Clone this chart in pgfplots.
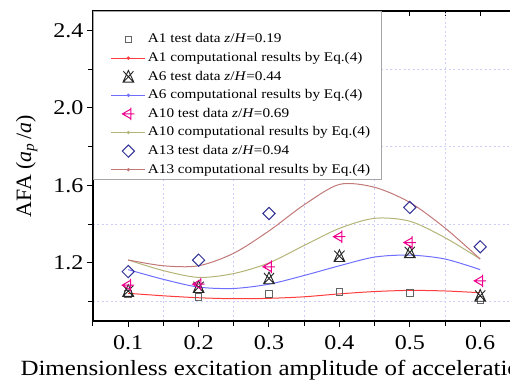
\documentclass[border=0pt]{standalone}
\usepackage{fontspec}
\setmainfont{Liberation Serif}[FakeStretch=1.15]
\newfontfamily\ylabfont{Liberation Serif}
\usepackage{pgfplots}
\pgfplotsset{compat=1.18}

\definecolor{cA1}{RGB}{255,60,60}
\definecolor{cA6}{RGB}{110,110,255}
\definecolor{cA10}{RGB}{180,180,120}
\definecolor{cA13}{RGB}{195,120,120}
\definecolor{mA1}{RGB}{100,100,100}
\definecolor{mA13}{RGB}{50,50,150}
\definecolor{gridc}{RGB}{205,205,250}

\pgfdeclareplotmark{xtri}{%
  \pgfpathmoveto{\pgfqpoint{-0.85\pgfplotmarksize}{-0.9\pgfplotmarksize}}%
  \pgfpathlineto{\pgfqpoint{0.85\pgfplotmarksize}{0.9\pgfplotmarksize}}%
  \pgfpathmoveto{\pgfqpoint{-0.85\pgfplotmarksize}{0.9\pgfplotmarksize}}%
  \pgfpathlineto{\pgfqpoint{0.85\pgfplotmarksize}{-0.9\pgfplotmarksize}}%
  \pgfpathmoveto{\pgfqpoint{0pt}{1.05\pgfplotmarksize}}%
  \pgfpathlineto{\pgfqpoint{-0.9\pgfplotmarksize}{-0.9\pgfplotmarksize}}%
  \pgfpathlineto{\pgfqpoint{0.9\pgfplotmarksize}{-0.9\pgfplotmarksize}}%
  \pgfpathclose
  \pgfusepathqstroke}
\pgfdeclareplotmark{ltriplus}{%
  \pgfpathmoveto{\pgfqpoint{-\pgfplotmarksize}{0pt}}%
  \pgfpathlineto{\pgfqpoint{0.4\pgfplotmarksize}{0.8\pgfplotmarksize}}%
  \pgfpathlineto{\pgfqpoint{0.4\pgfplotmarksize}{-0.8\pgfplotmarksize}}%
  \pgfpathclose
  \pgfpathmoveto{\pgfqpoint{-\pgfplotmarksize}{0pt}}%
  \pgfpathlineto{\pgfqpoint{\pgfplotmarksize}{0pt}}%
  \pgfpathmoveto{\pgfqpoint{0.4\pgfplotmarksize}{-1.05\pgfplotmarksize}}%
  \pgfpathlineto{\pgfqpoint{0.4\pgfplotmarksize}{1.05\pgfplotmarksize}}%
  \pgfusepathqstroke}

\pgfplotsset{
  marklegend/.style={legend image code/.code={%
    \path[draw=none,fill=none] (0bp,0bp) -- (43bp,0bp);
    \draw[##1] plot coordinates {(26bp,0bp)};}},
  linelegend/.style={legend image code/.code={%
    \path[draw=none,fill=none] (0bp,0bp) -- (43bp,0bp);
    \draw[##1] (9bp,0bp) -- (43bp,0bp);
    \fill[##1] (26bp,0bp) circle (1.1bp);}},
}

\begin{document}
\begin{tikzpicture}
\useasboundingbox (-93bp,-67bp) rectangle (417bp,321bp);
\clip (-93bp,-67bp) rectangle (417bp,321bp);
% top/right inward ticks
\begin{axis}[at={(0,0)}, anchor=south west, scale only axis,
  width=422.4bp, height=310bp,
  xmin=0.05, xmax=0.65, ymin=0.9, ymax=2.5,
  axis line style={draw=none},
  xtick={0.05,0.1,0.15,0.2,0.25,0.3,0.35,0.4,0.45,0.5,0.55,0.6,0.65},
  ytick={1.2,1.6,2.0,2.4},
  xticklabels={}, yticklabels={},
  xtick pos=right, ytick pos=right, tick align=inside,
  major tick length=5bp,
  tick style={black, line width=1bp},
]
\end{axis}
\begin{axis}[at={(0,0)}, anchor=south west, scale only axis,
  width=422.4bp, height=310bp,
  xmin=0.05, xmax=0.65, ymin=0.9, ymax=2.5,
  axis line style={black, line width=1.2bp},
  xtick={0.1,0.2,0.3,0.4,0.5,0.6},
  minor xtick={0.05,0.15,0.25,0.35,0.45,0.55,0.65},
  ytick={1.2,1.6,2.0,2.4},
  minor ytick={1.0,1.4,1.8,2.2},
  xtick pos=left, ytick pos=left, tick align=outside,
  major tick length=6bp, minor tick length=5bp,
  tick style={black, line width=1bp},
  xminorgrids=true, yminorgrids=true,
  minor grid style={gridc, dash pattern=on 2bp off 2.5bp, line width=0.8bp},
  /pgf/number format/assume math mode=true,
  xticklabel style={/pgf/number format/.cd, fixed, fixed zerofill, precision=1, /tikz/.cd, font=\fontsize{21}{21}\selectfont, yshift=-5bp},
  yticklabel style={/pgf/number format/.cd, fixed, fixed zerofill, precision=1, /tikz/.cd, font=\fontsize{21}{21}\selectfont},
  xlabel={Dimensionless excitation amplitude of acceleration ($a$/$g$)},
  xlabel style={at={(axis description cs:0,0)}, anchor=base west, xshift=-76bp, yshift=-54bp, font=\fontsize{21.8}{22}\selectfont},
  ylabel={\ylabfont AFA (\textit{a}\textsubscript{\textit{p}}\,/\textit{a})},
  ylabel style={at={(axis description cs:-0.157,0.5)}, anchor=center, font=\fontsize{22}{22}\selectfont},
  legend cell align=left,
  legend style={at={(axis description cs:0,1)}, anchor=north west,
    draw=gray!70, fill=white, line width=0.8bp,
    font=\fontsize{13.3}{14}\selectfont,
    inner xsep=9bp, inner ysep=3bp, row sep=5.6bp,
    nodes={inner ysep=0bp, inner xsep=2bp, text height=10bp, text depth=3bp}},
]
\addlegendimage{empty legend}
\addlegendentry{}
% A1
\addplot[only marks, mark=square, mark size=3.3bp, mark options={mA1, line width=0.8bp}, marklegend]
  coordinates {(0.1,1.040) (0.2,1.025) (0.3,1.040) (0.4,1.050) (0.5,1.045) (0.6,1.010)};
\addlegendentry{A1 test data \textit{z}/\textit{H}=0.19}
\addplot[cA1, line width=1bp, smooth, linelegend]
  coordinates {(0.1,1.043) (0.15,1.030) (0.2,1.020) (0.25,1.015) (0.3,1.017) (0.35,1.025) (0.4,1.040) (0.45,1.052) (0.5,1.058) (0.55,1.055) (0.6,1.046)};
\addlegendentry{A1 computational results by Eq.(4)}
% A6
\addplot[only marks, mark=xtri, mark size=6bp, mark options={black!85, line width=0.9bp}, marklegend]
  coordinates {(0.1,1.055) (0.2,1.075) (0.3,1.120) (0.4,1.235) (0.5,1.255) (0.6,1.030)};
\addlegendentry{A6 test data \textit{z}/\textit{H}=0.44}
\addplot[cA6, line width=1bp, smooth, linelegend]
  coordinates {(0.1,1.165) (0.15,1.115) (0.2,1.075) (0.25,1.068) (0.3,1.090) (0.35,1.135) (0.4,1.185) (0.45,1.230) (0.5,1.240) (0.55,1.220) (0.6,1.165)};
\addlegendentry{A6 computational results by Eq.(4)}
% A10
\addplot[only marks, mark=ltriplus, mark size=6bp, mark options={magenta, line width=1bp}, marklegend]
  coordinates {(0.1,1.085) (0.2,1.090) (0.3,1.180) (0.4,1.335) (0.5,1.305) (0.6,1.107)};
\addlegendentry{A10 test data \textit{z}/\textit{H}=0.69}
\addplot[cA10, line width=1bp, smooth, linelegend]
  coordinates {(0.1,1.215) (0.15,1.160) (0.2,1.125) (0.25,1.145) (0.3,1.200) (0.35,1.290) (0.4,1.378) (0.45,1.430) (0.5,1.415) (0.55,1.330) (0.6,1.220)};
\addlegendentry{A10 computational results by Eq.(4)}
% A13
\addplot[only marks, mark=square, mark size=4.3bp, mark options={mA13, rotate=45, line width=1bp}, marklegend]
  coordinates {(0.1,1.155) (0.2,1.214) (0.3,1.455) (0.5,1.486) (0.6,1.283)};
\addlegendentry{A13 test data \textit{z}/\textit{H}=0.94}
\addplot[cA13, line width=1bp, smooth, linelegend]
  coordinates {(0.1,1.215) (0.15,1.185) (0.2,1.185) (0.25,1.250) (0.3,1.365) (0.35,1.500) (0.4,1.605) (0.45,1.590) (0.5,1.512) (0.55,1.380) (0.6,1.220)};
\addlegendentry{A13 computational results by Eq.(4)}
\end{axis}
\end{tikzpicture}
\end{document}
